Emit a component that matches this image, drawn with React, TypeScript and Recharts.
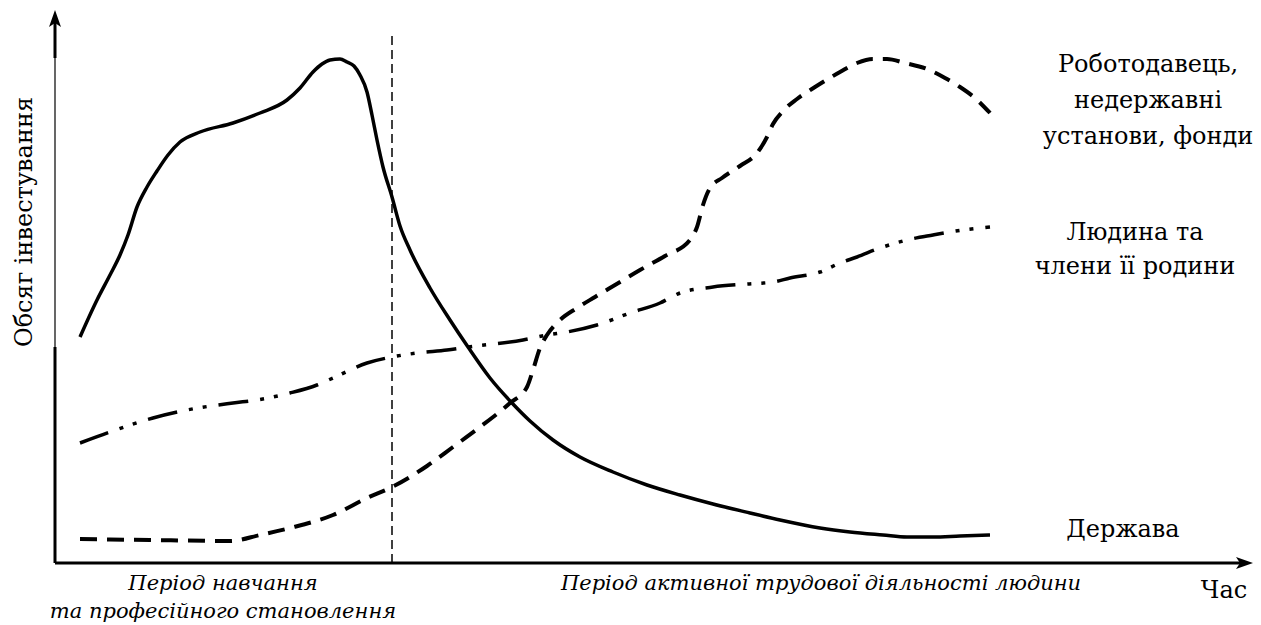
import React from 'react';
import { LineChart, Line, XAxis, YAxis, ReferenceLine, Customized } from 'recharts';

// Time axis values (arbitrary units) and investment volume (arbitrary units)
const stateTime = [2.5, 4.2, 5.5, 6.5, 7.3, 8.2, 9.2, 10.2, 11.3, 12.5, 14.5, 17.8, 20.5, 23.2, 24.5, 25.8, 26.7, 27.5, 28.5, 29.2, 29.9, 30.5, 31.2, 31.7, 32.2, 32.8, 33.7, 34.5, 35.5, 37.5, 39.5, 41.3, 43.5, 45.7, 47.5, 49.8, 52.5, 55.8, 59.2, 62.5, 65.8, 69.5, 72.5, 76.5, 79.5, 82.8, 85.2, 87.8, 90.5, 93.5];
const stateValue = [45.2, 52.6, 57.6, 61.6, 65.6, 71.2, 75.2, 78.4, 81.6, 84.2, 86.2, 88, 90, 92.6, 95, 98.2, 99.8, 100.6, 100.8, 100.2, 99.4, 97.6, 94.2, 89.6, 84.6, 79.2, 73.2, 67.4, 62.6, 55, 48.6, 43.2, 37, 32, 28.4, 24.6, 21.2, 18.2, 15.6, 13.6, 11.8, 10, 8.6, 7, 6.2, 5.6, 5.2, 5.2, 5.4, 5.6];

const employerTime = [2.5, 9.5, 17.5, 20.5, 23.5, 27.8, 31.2, 33.7, 37.2, 39.8, 42.5, 45.5, 47.2, 47.8, 48.5, 49.2, 50.5, 52.2, 54, 56, 58.5, 61, 63.5, 64.2, 64.8, 65.5, 66.7, 68.5, 70.2, 71.2, 71.8, 72.8, 74.2, 76, 78.5, 80.2, 81.8, 83.2, 85, 87.2, 89, 90.5, 92, 93.5];
const employerValue = [4.8, 4.6, 4.4, 5.6, 7, 9.6, 13, 15.2, 19.4, 23.2, 27.2, 32, 35.2, 38.6, 43, 45.6, 48.6, 51, 53.2, 55.6, 58.6, 61.4, 64.6, 67.2, 71.6, 75, 77, 79.4, 82, 85.2, 87.8, 90.4, 92.8, 95.2, 98.2, 100, 100.8, 100.8, 100, 98.8, 97, 95.2, 93, 90];

const personTime = [2.5, 5.5, 9.8, 13.2, 17.8, 20.2, 23.5, 26.2, 27.8, 31.2, 33.7, 36.2, 39.2, 41.3, 46.8, 49.2, 51.2, 54.2, 57.5, 60.5, 62.5, 65.8, 69.2, 71.8, 73.5, 76.5, 78.5, 80.2, 82.5, 85.2, 87.8, 90.8, 93.5];
const personValue = [24, 26.2, 29, 30.6, 32, 32.6, 34, 35.6, 37, 40, 41.2, 42, 42.6, 43.2, 44.6, 45.6, 46.2, 47.6, 50, 52, 54, 55.2, 55.8, 56.2, 57, 58.2, 60, 61.2, 63, 64.6, 65.6, 66.6, 67.2];

const periodBoundary = 33.7;
const employerLabel = ['Роботодавець,', 'недержавні', 'установи, фонди'];
const personLabel = ['Людина та', 'члени її родини'];
const stateLabel = ['Держава'];
const yAxisTitle = 'Обсяг інвестування';
const xAxisTitle = 'Час';
const studyLabel = ['Період навчання', 'та професійного становлення'];
const workLabel = ['Період активної трудової діяльності людини'];

const zip = (t: number[], v: number[]) => t.map((x, i) => ({ t: x, v: v[i] }));
const stateData = zip(stateTime, stateValue);
const employerData = zip(employerTime, employerValue);
const personData = zip(personTime, personValue);

const FONT = 'DejaVu Serif';
const FS = 24;
const FS_IT = 21;

const arrowShape = (width: number) => (props: any) => {
  const { x1, y1, x2, y2 } = props;
  const dx = x2 - x1;
  const dy = y2 - y1;
  const len = Math.sqrt(dx * dx + dy * dy) || 1;
  const ux = dx / len;
  const uy = dy / len;
  const px = -uy;
  const py = ux;
  const hl = 17;
  const hw = 6;
  const notch = 4;
  const bx = x2 - ux * hl;
  const by = y2 - uy * hl;
  const nx = x2 - ux * (hl - notch);
  const ny = y2 - uy * (hl - notch);
  const pts = `${x2},${y2} ${bx + px * hw},${by + py * hw} ${nx},${ny} ${bx - px * hw},${by - py * hw}`;
  return (
    <g>
      <line x1={x1} y1={y1} x2={nx} y2={ny} stroke="#000" strokeWidth={width} />
      <polygon points={pts} fill="#000" />
    </g>
  );
};

const T = (p: any) => (
  <text fontSize={FS} fill="#000" textAnchor="middle" fontFamily={FONT} {...p} />
);

const Annotations = () => (
  <g>
    {employerLabel.map((s, i) => (
      <T key={s} x={1148} y={72 + i * 36}>{s}</T>
    ))}
    {personLabel.map((s, i) => (
      <T key={s} x={1135} y={240 + i * 34}>{s}</T>
    ))}
    {stateLabel.map((s) => (
      <T key={s} x={1123} y={537}>{s}</T>
    ))}
    <T x={1224} y={598}>{xAxisTitle}</T>
    {studyLabel.map((s, i) => (
      <T key={s} x={223} y={590 + i * 28} fontSize={FS_IT} fontStyle="italic">{s}</T>
    ))}
    {workLabel.map((s) => (
      <T key={s} x={821} y={590} fontSize={FS_IT} fontStyle="italic">{s}</T>
    ))}
    <T x={0} y={0} transform="translate(32,222) rotate(-90)">{yAxisTitle}</T>
  </g>
);

export default function App() {
  return (
    <div style={{ position: 'absolute', left: 0, top: 0, width: 1261, height: 625, background: '#fff' }}>
      <LineChart width={1261} height={625} margin={{ top: 13, right: 6, bottom: 62, left: 55 }}>
        <XAxis type="number" dataKey="t" domain={[0, 120]} hide allowDataOverflow />
        <YAxis type="number" dataKey="v" domain={[0, 110]} hide allowDataOverflow />
        <ReferenceLine segment={[{ x: periodBoundary, y: 0 }, { x: periodBoundary, y: 105.8 }]} stroke="#000" strokeWidth={1.5} strokeDasharray="9 5" ifOverflow="visible" />
        <ReferenceLine segment={[{ x: 0, y: 0 }, { x: 0, y: 43.2 }]} stroke="#000" strokeWidth={3} ifOverflow="visible" />
        <ReferenceLine segment={[{ x: 0, y: 43.2 }, { x: 0, y: 101 }]} stroke="#000" strokeWidth={1.2} ifOverflow="visible" />
        <ReferenceLine segment={[{ x: 0, y: 101 }, { x: 0, y: 110.6 }]} stroke="#000" ifOverflow="visible" shape={arrowShape(3)} />
        <ReferenceLine segment={[{ x: 0, y: 0 }, { x: 119.8, y: 0 }]} stroke="#000" ifOverflow="visible" shape={arrowShape(3)} />
        <Line data={stateData} dataKey="v" type="monotone" stroke="#000" strokeWidth={3.5} dot={false} activeDot={false} isAnimationActive={false} />
        <Line data={employerData} dataKey="v" type="monotone" stroke="#000" strokeWidth={4} strokeDasharray="17 10" dot={false} activeDot={false} isAnimationActive={false} />
        <Line data={personData} dataKey="v" type="monotone" stroke="#000" strokeWidth={3.5} strokeDasharray="30 12 4 10 4 12" dot={false} activeDot={false} isAnimationActive={false} />
        <Customized component={Annotations} />
      </LineChart>
    </div>
  );
}
